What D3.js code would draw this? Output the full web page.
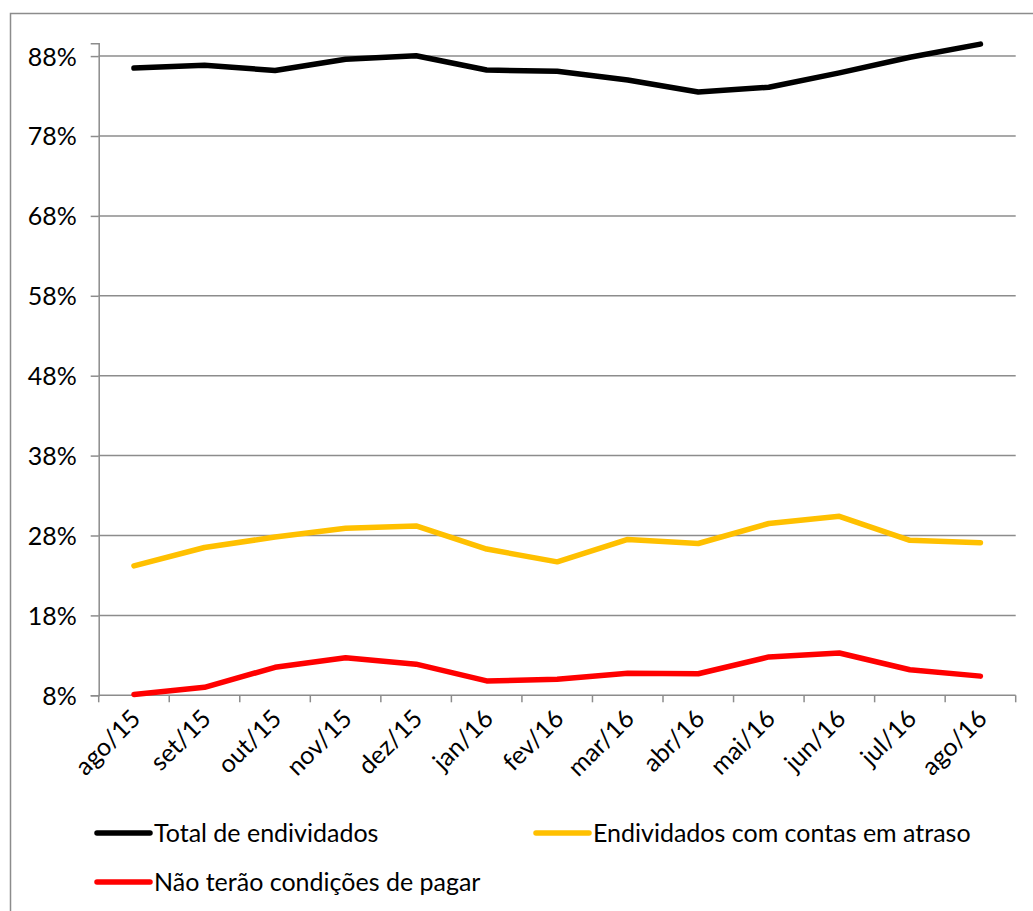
<!DOCTYPE html>
<html lang="pt">

<head>
    <meta charset="UTF-8">
    <title>Endividamento</title>
    <script src="https://d3js.org/d3.v7.min.js"></script>
    <style>
        body { margin: 0; background: #fff; }
        text { font-family: Lato, "Liberation Sans", sans-serif; fill: #000; }
    </style>
</head>

<body>
    <svg id="chart" width="1033" height="911"></svg>

    <script>
        // months on the x axis
        const months = ["ago/15", "set/15", "out/15", "nov/15", "dez/15", "jan/16", "fev/16",
            "mar/16", "abr/16", "mai/16", "jun/16", "jul/16", "ago/16"];

        // series values, in percent
        const totalEndividados = [86.5, 86.85, 86.2, 87.6, 88.05, 86.25, 86.1, 85.0, 83.5, 84.1, 85.9, 87.85, 89.5];
        const contasAtraso = [24.2, 26.5, 27.8, 28.9, 29.2, 26.3, 24.7, 27.5, 27.0, 29.5, 30.4, 27.4, 27.1];
        const naoPagar = [8.1, 9.0, 11.5, 12.7, 11.9, 9.8, 10.0, 10.75, 10.7, 12.8, 13.3, 11.2, 10.4];

        const yTicks = [8, 18, 28, 38, 48, 58, 68, 78, 88];

        const series = [
            { name: "Total de endividados", values: totalEndividados, color: "#000000" },
            { name: "Endividados com contas em atraso", values: contasAtraso, color: "#FFC000" },
            { name: "Não terão condições de pagar", values: naoPagar, color: "#FF0000" }
        ];

        const svg = d3.select("#chart");

        // outer chart border (right and bottom fall outside the picture)
        svg.append("rect")
            .attr("x", 10.5).attr("y", 13.5)
            .attr("width", 1040).attr("height", 920)
            .attr("fill", "none")
            .attr("stroke", "#8c8c8c")
            .attr("stroke-width", 1.5);

        const plotLeft = 98.7, plotRight = 1015.7, plotTop = 43.3, plotBottom = 695.3;

        const x = d3.scaleBand()
            .domain(months)
            .range([plotLeft, plotRight]);

        const y = d3.scaleLinear()
            .domain([8, 89.6])
            .range([plotBottom, plotTop]);

        // horizontal gridlines
        svg.append("g")
            .selectAll("line")
            .data(yTicks.slice(1))
            .enter().append("line")
            .attr("x1", plotLeft).attr("x2", plotRight)
            .attr("y1", d => y(d)).attr("y2", d => y(d))
            .attr("stroke", "#8c8c8c")
            .attr("stroke-width", 1.5);

        // y axis
        const yAxis = svg.append("g")
            .attr("transform", `translate(${plotLeft},0)`)
            .call(d3.axisLeft(y).tickValues(yTicks).tickSize(8).tickPadding(14).tickFormat(d => d + "%"));
        yAxis.select(".domain").attr("stroke", "#8c8c8c").attr("stroke-width", 1.5);
        yAxis.selectAll(".tick line").attr("stroke", "#8c8c8c").attr("stroke-width", 1.5);
        yAxis.selectAll("text").style("font-size", "25px").attr("dy", "0.36em");

        // x axis with ticks between categories
        const xAxis = svg.append("g")
            .attr("transform", `translate(0,${plotBottom})`);
        xAxis.append("line")
            .attr("x1", plotLeft).attr("x2", plotRight)
            .attr("stroke", "#8c8c8c").attr("stroke-width", 1.5);
        xAxis.selectAll(".tk")
            .data(months.concat(["end"]))
            .enter().append("line")
            .attr("class", "tk")
            .attr("x1", (d, i) => plotLeft + i * x.step())
            .attr("x2", (d, i) => plotLeft + i * x.step())
            .attr("y1", 0).attr("y2", 7)
            .attr("stroke", "#8c8c8c").attr("stroke-width", 1.5);
        xAxis.selectAll(".lbl")
            .data(months)
            .enter().append("text")
            .attr("class", "lbl")
            .attr("text-anchor", "end")
            .attr("transform", d => `translate(${x(d) + x.bandwidth() / 2 + 8},${25}) rotate(-45)`)
            .style("font-size", "25px")
            .text(d => d);

        // lines
        const line = d3.line()
            .x((d, i) => x(months[i]) + x.bandwidth() / 2)
            .y(d => y(d));

        svg.append("g")
            .selectAll("path")
            .data(series)
            .enter().append("path")
            .attr("d", d => line(d.values))
            .attr("fill", "none")
            .attr("stroke", d => d.color)
            .attr("stroke-width", 5.5)
            .attr("stroke-linejoin", "round")
            .attr("stroke-linecap", "round");

        // legend
        const legendPos = [[97, 833], [536, 833], [97, 882]];
        const legend = svg.append("g");
        series.forEach((s, i) => {
            const [lx, ly] = legendPos[i];
            legend.append("line")
                .attr("x1", lx).attr("x2", lx + 53)
                .attr("y1", ly).attr("y2", ly)
                .attr("stroke", s.color)
                .attr("stroke-width", 5.5)
                .attr("stroke-linecap", "round");
            legend.append("text")
                .attr("x", lx + 57)
                .attr("y", ly)
                .attr("dy", "0.36em")
                .style("font-size", "25px")
                .text(s.name);
        });
    </script>

</body>

</html>
